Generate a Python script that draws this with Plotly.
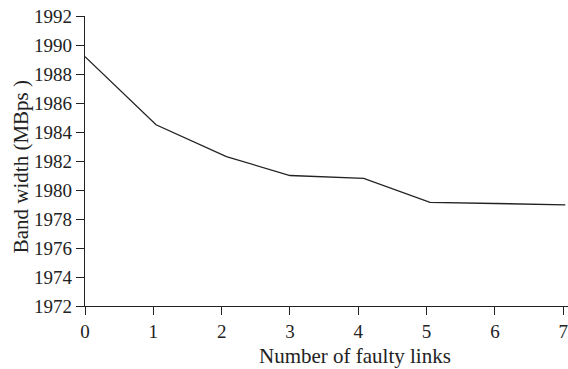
import plotly.graph_objects as go

faulty_links = [0, 1.04, 2.07, 3.0, 4.08, 5.05, 6.0, 7.03]
bandwidth = [1989.2, 1984.5, 1982.3, 1981.0, 1980.8, 1979.15, 1979.07, 1978.98]
y_ticks = list(range(1972, 1993, 2))
x_ticks = list(range(0, 8))

font_family = "Liberation Serif"

fig = go.Figure()
fig.add_trace(go.Scatter(
    x=faulty_links, y=bandwidth, mode="lines",
    line=dict(color="#222222", width=1.3),
    showlegend=False, cliponaxis=False,
))

fig.update_layout(
    width=568, height=369,
    margin=dict(l=85, r=0, t=16, b=62.5),
    paper_bgcolor="white", plot_bgcolor="white",
    font=dict(family=font_family, size=19, color="#222222"),
    xaxis=dict(
        range=[0, 7.07], tickvals=x_ticks, ticks="outside", ticklen=8,
        tickwidth=1.2, tickcolor="#222222",
        showline=True, linecolor="#222222", linewidth=1.3,
        showgrid=False, zeroline=False,
        tickfont=dict(size=19),
    ),
    yaxis=dict(
        range=[1972, 1992], tickvals=y_ticks, ticks="outside", ticklen=8,
        tickwidth=1.2, tickcolor="#222222",
        showline=True, linecolor="#222222", linewidth=1.3,
        showgrid=False, zeroline=False,
        tickfont=dict(size=19),
    ),
    annotations=[
        dict(text="Number of faulty links", xref="paper", yref="paper",
             x=(354.5 - 85) / 483, y=-(356.5 - 306.5) / 290.5,
             xanchor="center", yanchor="middle", showarrow=False,
             font=dict(size=21)),
        dict(text="Band width (MBps )", xref="paper", yref="paper",
             x=-(85 - 21) / 483, y=(306.5 - 167.5) / 290.5,
             xanchor="center", yanchor="middle", showarrow=False,
             textangle=-90, font=dict(size=21)),
    ],
)

fig.write_html("out.html")
